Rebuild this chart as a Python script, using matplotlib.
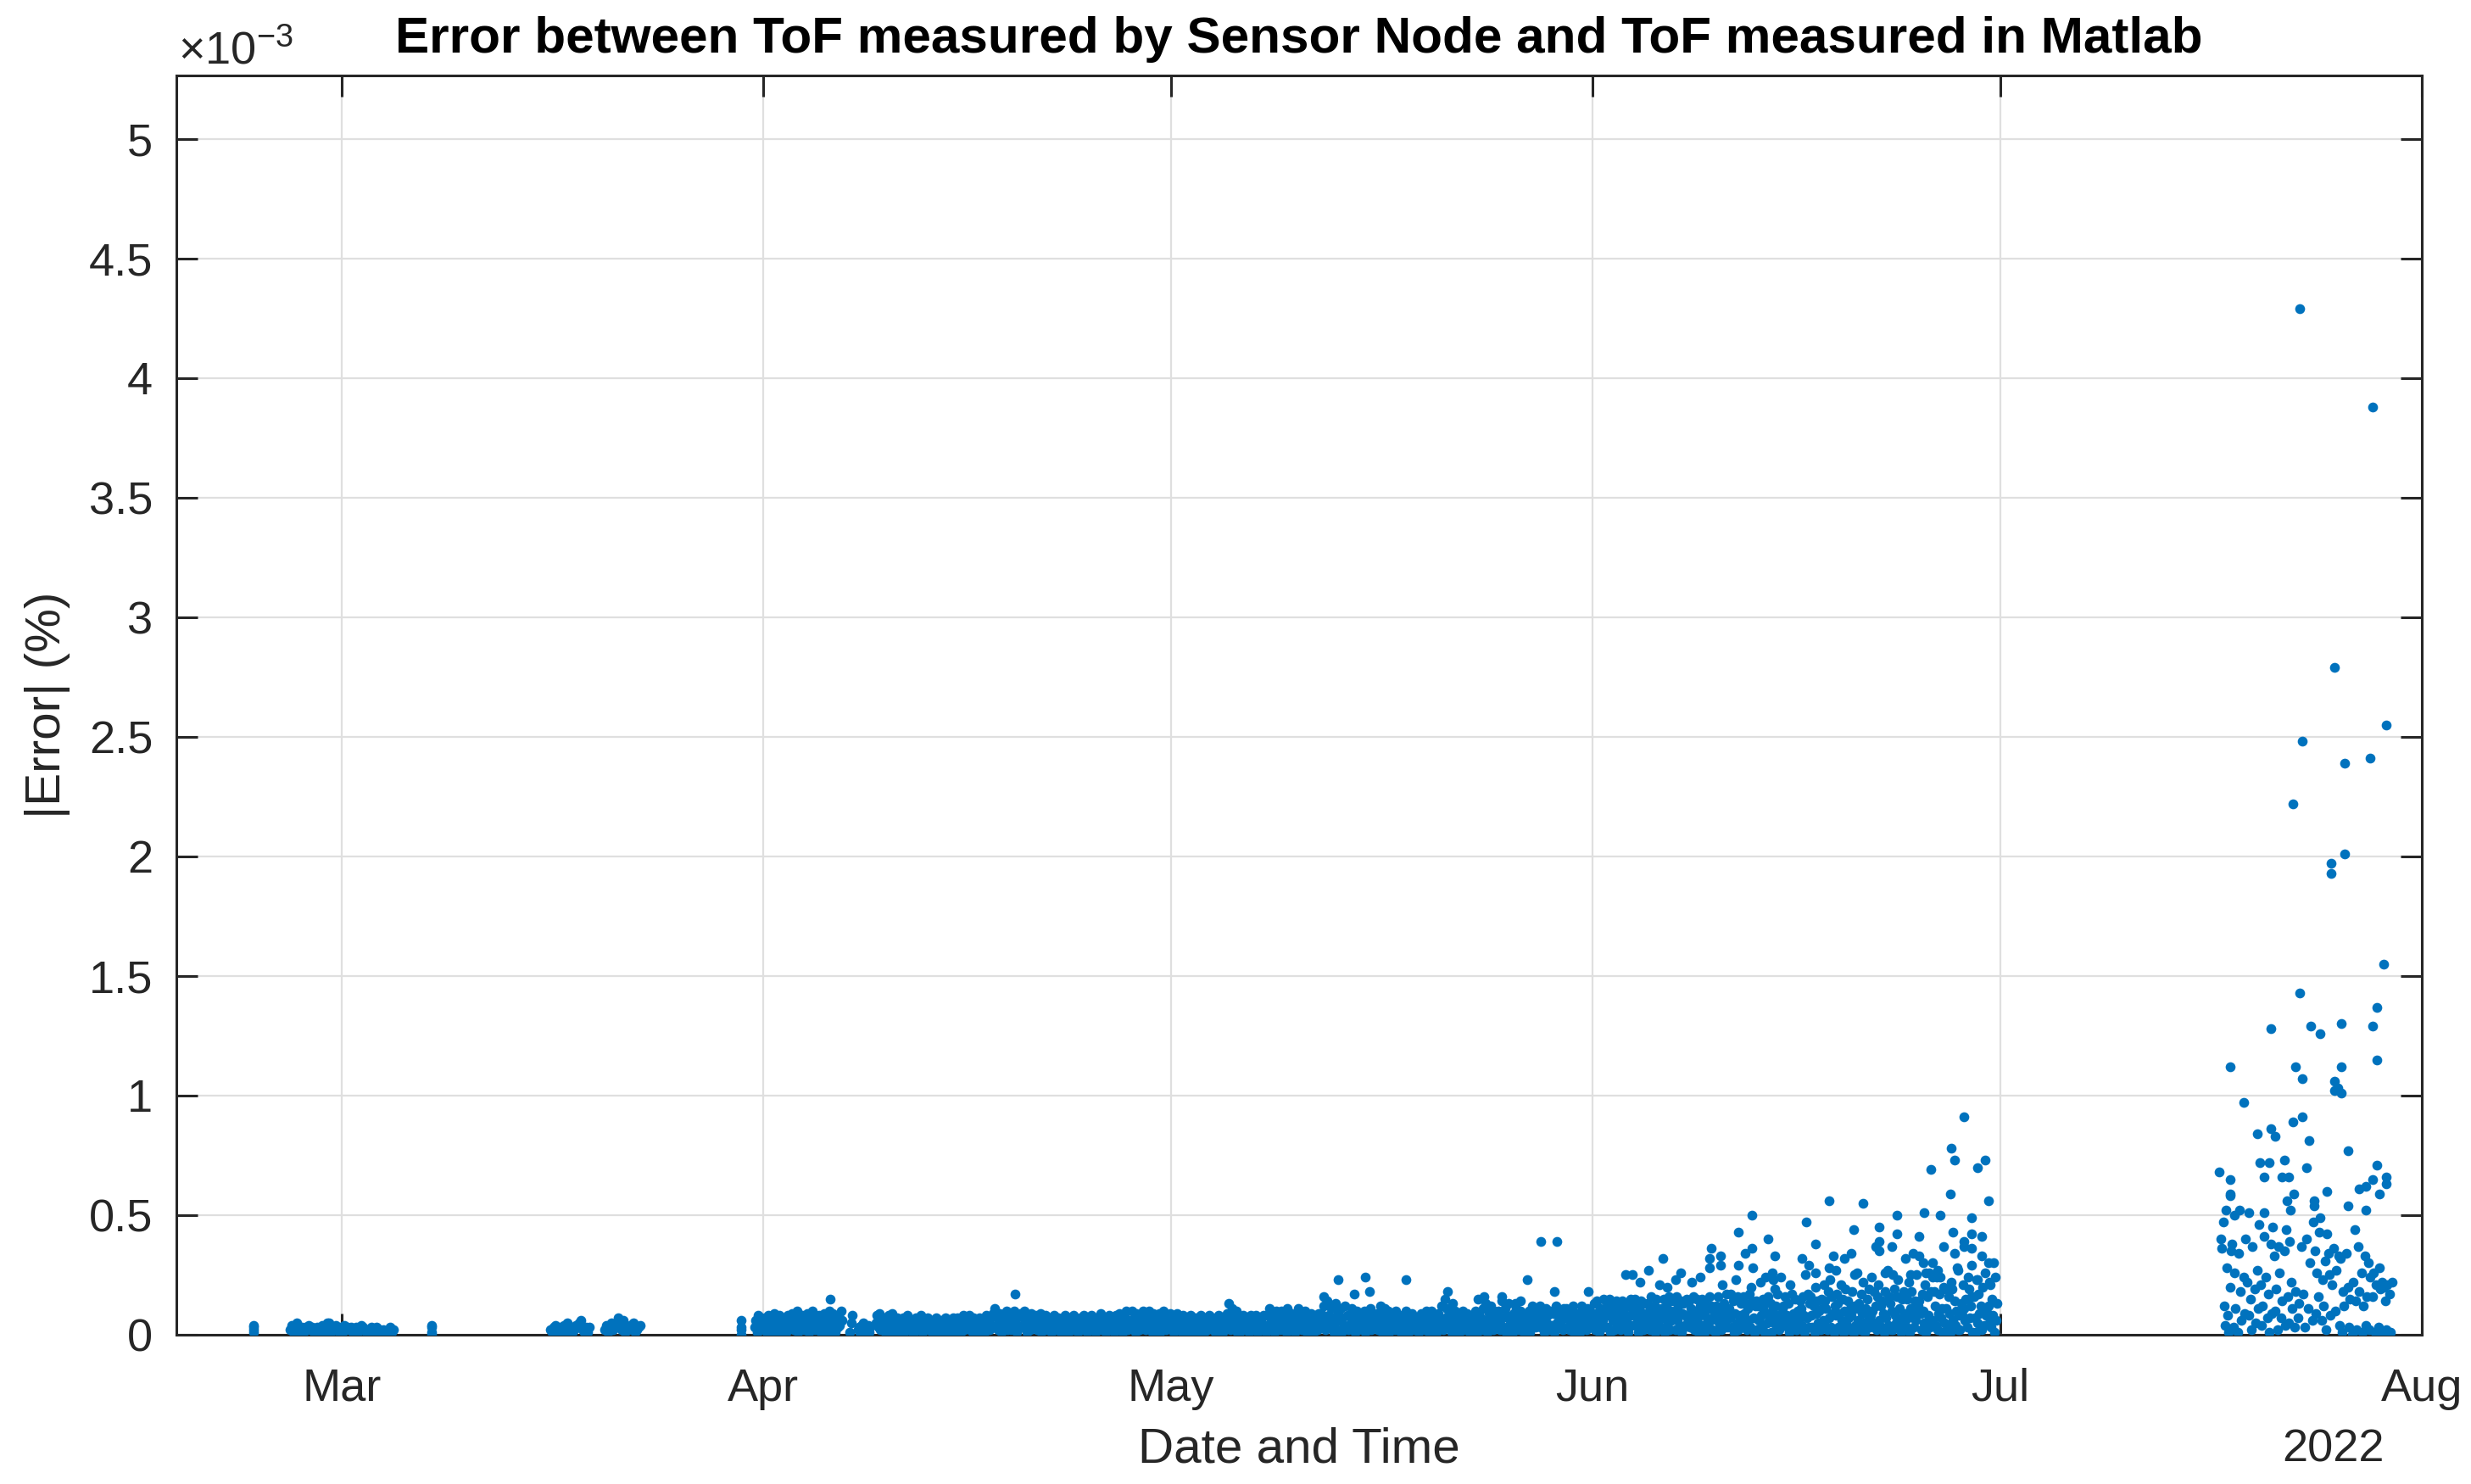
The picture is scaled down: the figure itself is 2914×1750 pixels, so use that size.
import numpy as np
import pandas as pd
import matplotlib
matplotlib.use('Agg')
import matplotlib.pyplot as plt
import matplotlib.dates as mdates
from matplotlib.ticker import FuncFormatter

plt.rcParams['font.family'] = ['Liberation Sans', 'DejaVu Sans']
plt.rcParams['mathtext.fontset'] = 'custom'
plt.rcParams['mathtext.rm'] = 'Liberation Sans'

# |Error| values are in units of 0.01 x 1e-3 %.
# Day strings: one string per day, samples spread evenly over the day, '-' = no sample.

# short bursts of samples (day of year, value)
burst_doy = [53.5, 53.5, 53.5, 53.5, 66.6, 66.6, 66.6, 66.6, 89.4, 89.4, 89.4, 89.4]
burst_vals = [1, 2, 3, 4, 0, 1, 3, 4, 0, 2, 3, 6]

late_feb_start = '2022-02-25'
late_feb_days = [
    "- 2 4 1 3 5 2 1",
    "3 1 3 2 4 2 3 1",
    "2 3 2 1 4 2 1 5",
    "5 1 3 2 4 2 1 3",
    "1 4 2 3 2 3 1 2",
    "3 1 2 4 3 2 1 2",
    "2 3 1 2 3 1 2 1",
    "2 1 - - 3 1 2 -",
]

mid_mar_start = '2022-03-16'
mid_mar_days = [
    "- - 2 1 3 4 2 1",
    "3 2 4 1 5 2 3 1",
    "2 4 3 5 6 2 1 3",
    "1 3 - - - - - -",
    "- - 2 4 1 3 5 2",
    "3 5 7 4 2 6 1 3",
    "2 4 3 5 1 2 3 4",
]

april_start = '2022-03-31'
april_days = [
    "- - - - 3 6 1 8 4 2 7 5",
    "2 7 4 0 8 3 5 1 6 9 2 4",
    "5 1 8 3 6 2 7 4 1 8 5 3",
    "3 9 2 6 4 10 1 7 5 3 8 2",
    "6 2 9 4 1 7 3 10 5 2 8 4",
    "4 8 1 6 3 9 2 5 7 1 10 3",
    "2 9 5 1 7 3 8 4 10 6 - -",
    "- - - - 1 5 8 - - - - 2",
    "3 1 4 2 5 1 3 2 4 1 3 -",
    "- - - 5 8 3 9 2 6 4 7 1",
    "7 3 8 1 5 9 2 6 4 1 7 3",
    "2 6 4 7 1 5 3 8 2 6 4 1",
    "5 1 7 3 6 2 4 8 1 5 3 6",
    "3 7 2 5 1 6 4 2 7 3 5 1",
    "6 2 4 1 7 3 5 2 6 1 4 7",
    "1 5 3 7 2 6 1 4 8 2 5 3",
    "4 8 2 5 1 7 3 6 2 4 7 1",
    "2 6 4 1 8 3 5 2 7 4 9 3",
    "11 4 7 2 9 5 1 8 3 6 10 2",
    "5 9 2 7 3 10 6 1 8 4 9 3",
    "3 7 10 4 1 8 5 2 9 6 3 7",
    "8 2 6 4 9 1 5 7 3 8 2 6",
    "4 7 1 5 8 3 6 2 7 4 1 5",
    "2 5 8 3 6 1 7 4 2 8 5 3",
    "6 1 4 7 2 5 8 3 6 1 4 7",
    "3 8 2 5 7 1 4 6 3 9 2 5",
    "7 4 1 6 3 8 2 5 7 1 4 8",
    "2 6 9 3 5 1 8 4 10 2 6 3",
    "5 10 3 7 1 9 4 6 2 8 5 10",
    "8 2 6 4 10 3 7 1 9 5 2 7",
    "4 9 1 7 3 10 5 2 8 6 3 9",
]

may_start = '2022-05-01'
may_days = [
    "3 8 1 6 4 9 2 7 5 1 8 3",
    "6 2 7 4 1 8 3 5 2 7 4 1",
    "2 5 8 3 6 1 7 4 2 8 5 3",
    "7 3 1 6 4 8 2 5 7 1 6 3",
    "4 9 13 6 2 11 5 8 3 10 1 6",
    "1 6 3 8 5 2 7 4 1 6 8 3",
    "5 2 8 4 1 7 3 6 2 8 4 1",
    "8 3 11 5 2 9 6 1 10 4 7 3",
    "2 10 6 3 8 1 11 5 7 2 9 4",
    "6 1 9 4 11 3 7 2 8 5 10 1",
    "3 7 2 9 5 1 8 4 6 2 9 5",
    "9 4 12 6 2 14 5 8 3 11 7 1",
    "5 13 2 9 6 11 1 7 4 12 3 8",
    "2 8 5 11 3 7 1 10 6 2 9 4",
    "7 3 10 1 6 9 4 11 2 8 5 3",
    "4 9 2 7 12 5 1 8 11 6 3 10",
    "1 6 9 3 7 2 10 5 8 4 1 7",
    "8 2 5 10 4 1 7 3 9 6 2 5",
    "3 7 1 6 9 4 8 2 5 10 7 1",
    "6 10 4 2 8 5 1 9 3 7 12 4",
    "2 15 7 11 3 9 5 1 13 6 10 3",
    "9 4 1 8 6 10 2 7 3 9 5 1",
    "5 2 8 3 10 6 1 9 4 7 2 11",
    "3 13 6 1 9 4 12 7 2 10 5 8",
    "10 5 2 14 7 3 11 1 8 13 4 6",
    "6 1 9 4 11 8 2 7 10 3 5 1",
    "2 8 5 10 1 7 12 4 9 3 11 6",
    "7 12 3 6 9 1 11 5 8 2 10 4",
    "4 9 1 12 5 8 3 10 6 2 11 7",
    "11 3 7 2 10 5 12 1 8 4 9 6",
    "1 8 12 4 9 6 2 11 5 10 3 7",
]

june_start = '2022-06-01'
june_days = [
    "5 13 2 9 14 7 1 11 4 10 6 15 3 8",
    "12 3 8 15 1 10 6 13 2 9 14 4 11 7",
    "2 9 14 5 11 3 13 7 1 12 8 15 4 10",
    "8 15 4 12 6 1 10 14 5 9 2 13 7 3",
    "13 5 10 2 16 8 4 12 1 15 6 11 3 9",
    "3 11 7 15 1 9 13 5 16 2 10 6 14 8",
    "10 2 16 6 12 4 14 1 9 13 3 8 15 5",
    "6 14 3 11 8 16 2 10 5 15 7 1 12 4",
    "15 4 9 1 13 7 11 3 16 6 12 2 10 8",
    "1 12 6 16 4 10 2 21 8 13 5 17 3 9",
    "11 7 17 3 14 1 9 23 5 16 2 8 13 6",
    "4 16 9 13 2 11 6 17 3 20 14 7 1 12",
    "14 2 12 6 22 8 3 15 10 1 13 5 16 9",
    "7 13 1 10 5 19 12 4 17 8 2 24 6 11",
    "12 5 16 8 3 13 1 21 6 17 9 4 15 2",
    "2 10 6 14 11 4 16 8 1 25 7 17 3 13",
    "16 8 3 12 1 20 9 14 5 10 2 15 11 6",
    "5 14 11 2 18 7 23 3 16 9 1 12 8 17",
    "13 3 9 21 6 15 1 10 19 4 14 7 2 11",
    "8 18 1 12 4 11 26 6 13 2 17 9 22 5",
    "1 11 15 6 19 3 8 24 10 18 5 12 2 16",
    "21 6 12 3 14 9 1 18 7 27 4 16 13 2",
    "10 2 19 8 5 16 23 4 11 1 15 7 18 9",
    "4 15 7 22 1 11 18 9 3 14 6 25 10 12",
    "14 9 2 17 10 5 21 1 16 8 26 3 18 6",
    "6 18 12 4 24 2 9 17 7 11 1 20 5 19",
    "11 3 16 9 1 22 19 6 14 4 10 28 2 8",
    "2 13 8 21 11 6 15 3 24 19 7 12 16 1",
    "16 7 1 23 5 17 9 12 2 20 11 4 26 8",
    "9 12 5 21 3 15 8 1 24 6 13 - - -",
]

july_start = '2022-07-17'
july_days = [
    "- - 40 36 47 12 4 28 8 1 20 35",
    "38 3 26 11 - 1 34 18 6 - 24 9",
    "40 22 - 8 15 2 37 - 19 5 27 11",
    "46 21 4 12 41 - 24 7 17 1 38 9",
    "45 33 10 19 2 37 26 7 14 - 35 4",
    "44 16 5 39 22 11 - 3 18 - 7 13",
    "- 37 - 17 3 - 40 11 - 30 - 6",
    "47 35 9 26 16 43 - 6 23 12 31 2",
    "42 34 25 8 21 - 36 10 27 - 33 4",
    "32 1 18 12 - 34 20 3 15 - 0 22",
    "44 14 2 37 18 - 26 1 12 33 4 16",
    "30 2 24 - 16 26 1 21 - 3 28 19",
    "22 1 20 14 2 21 0 17 1 22 - -",
]

# isolated higher readings, April - June (day of year, value)
spring_spike_doy = [95.9, 109.5, 132.2, 133.3, 134.5, 135.3, 135.6, 138.3, 141.3,
                    143.6, 144.0, 145.3, 146.3, 146.7, 147.2, 148.2, 149.4, 149.2, 151.7]
spring_spike_vals = [15, 17, 16, 23, 17, 24, 18, 23, 18,
                     15, 16, 16, 13, 14, 23, 39, 39, 18, 18]

june_spike_doy = [179.3, 178.4, 178.6, 180.9, 180.3, 176.9, 178.3, 181.1, 169.4, 171.9,
                  163.7, 174.4, 176.4, 177.6, 179.9, 167.7, 162.7, 171.2, 173.1, 174.4,
                  176.0, 178.5, 179.9, 180.6, 164.9, 168.4, 160.7, 163.7, 163.2, 172.8,
                  173.1, 173.1, 174.0, 177.8, 178.6, 179.3, 179.3, 179.9, 180.6, 157.2,
                  161.4, 160.6, 165.4, 171.0, 170.5, 169.7, 167.4, 167.9, 175.0, 175.6,
                  176.0, 176.3, 177.0, 177.4, 181.1, 181.5, 179.9, 178.9, 162.7, 163.8,
                  161.4, 160.6, 156.1, 154.4, 154.9, 158.5, 158.1, 159.9, 159.3, 155.5,
                  156.9, 157.5, 165.2, 164.7, 165.3, 168.4, 169.0, 169.4, 169.9, 171.3,
                  173.5, 174.1, 175.4, 176.5, 177.0, 177.6, 181.2, 180.3]
june_spike_vals = [91, 78, 73, 73, 70, 69, 59, 56, 56, 55,
                   50, 50, 51, 50, 49, 47, 43, 44, 45, 42,
                   41, 43, 42, 41, 40, 38, 36, 36, 34, 37,
                   39, 35, 37, 37, 34, 37, 39, 36, 33, 32,
                   33, 32, 33, 34, 32, 33, 32, 29, 32, 34,
                   33, 30, 30, 27, 30, 30, 29, 27, 29, 28,
                   29, 28, 27, 25, 25, 26, 23, 24, 22, 22,
                   21, 20, 26, 24, 23, 26, 21, 28, 27, 25,
                   26, 25, 25, 26, 24, 24, 22, 23]

july_spike_doy = [204.0, 209.4, 206.6, 210.4, 204.2, 207.3, 209.2, 203.5, 207.3, 206.3,
                  206.3, 210.2, 204.0, 209.7, 201.9, 204.8, 205.5, 207.1, 209.4, 198.9,
                  203.7, 204.2, 207.1, 209.7, 206.6, 206.8, 206.6, 207.1, 199.9, 204.2,
                  203.5, 200.9, 201.9, 202.2, 204.7, 207.6, 209.7, 198.1, 198.9, 201.1,
                  201.8, 202.9, 201.4, 202.7, 203.2, 204.5, 209.4, 210.4, 210.4, 208.9,
                  208.4, 206.0, 198.9, 198.9, 209.9, 203.6, 203.1, 205.1, 205.1, 207.6,
                  208.9, 198.6, 199.2, 199.6, 200.3, 201.4, 203.3, 205.5]
july_spike_vals = [429, 388, 279, 255, 248, 239, 241, 222, 201, 197,
                   193, 155, 143, 137, 128, 129, 126, 130, 129, 112,
                   112, 107, 112, 115, 106, 103, 102, 101, 97, 91,
                   89, 84, 86, 83, 81, 77, 71, 68, 65, 72,
                   72, 73, 66, 66, 66, 70, 65, 66, 63, 62,
                   61, 60, 59, 58, 59, 59, 56, 56, 54, 54,
                   52, 52, 50, 52, 51, 51, 52, 49]

y_ticks = [0, 0.5, 1, 1.5, 2, 2.5, 3, 3.5, 4, 4.5, 5]


def from_day_strings(start, rows):
    t, v = [], []
    day0 = pd.Timestamp(start)
    for k, row in enumerate(rows):
        tok = row.split()
        n = len(tok)
        for i, s in enumerate(tok):
            if s == '-':
                continue
            t.append(day0 + pd.Timedelta(days=k + (i + 0.5) / n))
            v.append(float(s) * 0.01)
    return t, v


def from_doy(doy, vals):
    t = pd.Timestamp('2022-01-01') + pd.to_timedelta(np.array(doy) - 1, unit='D')
    return list(t), [x * 0.01 for x in vals]


times, errs = [], []
for start, rows in [(late_feb_start, late_feb_days), (mid_mar_start, mid_mar_days),
                    (april_start, april_days), (may_start, may_days),
                    (june_start, june_days), (july_start, july_days)]:
    t, v = from_day_strings(start, rows)
    times += t
    errs += v
for doy, vals in [(burst_doy, burst_vals), (spring_spike_doy, spring_spike_vals),
                  (june_spike_doy, june_spike_vals), (july_spike_doy, july_spike_vals)]:
    t, v = from_doy(doy, vals)
    times += t
    errs += v

dark = '#262626'
fig = plt.figure(figsize=(14.57, 8.75), dpi=200)
ax = fig.add_axes([0.0714, 0.1006, 0.9087, 0.8486])

ax.plot(times, errs, linestyle='none', marker='o', ms=4.2, mew=0, color='#0072BD', zorder=3)

ax.set_xlim(pd.Timestamp('2022-02-16 20:00'), pd.Timestamp('2022-08-01'))
ax.set_ylim(0, 5.265)
ax.xaxis.set_major_locator(mdates.MonthLocator(bymonthday=1))
ax.xaxis.set_major_formatter(mdates.DateFormatter('%b'))
ax.set_yticks(y_ticks)
ax.yaxis.set_major_formatter(FuncFormatter(lambda y, p: '%g' % y))

ax.grid(True, color='#dfdfdf', linewidth=0.8)
ax.set_axisbelow(True)
for s in ax.spines.values():
    s.set_color(dark)
    s.set_linewidth(1.1)
ax.tick_params(direction='in', length=9, width=1.1, top=True, right=True,
               labelsize=19.5, colors=dark, pad=10)
ax.tick_params(axis='x', pad=14)

ax.set_title('Error between ToF measured by Sensor Node and ToF measured in Matlab',
             fontsize=21.7, fontweight='bold', pad=9.7, color='black')
ax.set_xlabel('Date and Time', fontsize=21, color=dark, labelpad=7)
ax.set_ylabel('|Error| (%)', fontsize=21, color=dark, labelpad=8)

fig.text(0.9444, 0.0154, '2022', fontsize=19.5, color=dark, ha='center', va='baseline')
fig.text(0.0721, 0.957, r'$\mathregular{\times10^{-3}}$', fontsize=19.5, color=dark,
         ha='left', va='baseline')

fig.savefig('out.png', dpi=200)
